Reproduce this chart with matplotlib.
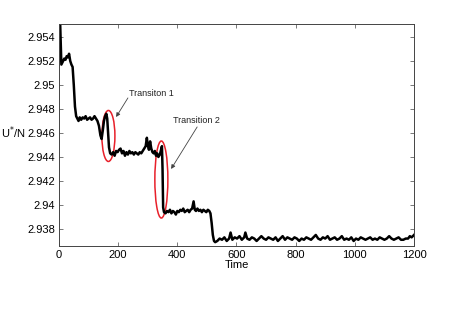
import matplotlib
matplotlib.use("Agg")
import matplotlib.pyplot as plt
from matplotlib.patches import Ellipse

plt.rcParams['font.family'] = ['Liberation Sans', 'DejaVu Sans']

# time series
time = [0, 8, 12, 18, 22, 26, 30, 34, 38, 42, 46, 50, 54, 58, 62,
        66, 70, 75, 80, 85, 90, 95, 100, 105, 110, 115, 120, 125, 130,
        135, 140, 144, 148, 152, 156, 160, 163, 166, 169, 173, 178,
        183, 188, 193, 198, 203, 208, 213, 218, 223, 228, 233, 238, 243, 248,
        253, 258, 263, 268, 273, 278, 283, 288, 293, 297, 300, 304, 308, 312,
        316, 320, 324, 328, 332, 336, 341, 345, 348, 350,
        352, 355, 360, 365, 370, 375, 380, 385, 390, 395, 400, 405, 410, 415,
        420, 425, 430, 435, 440, 445, 450, 455, 459, 463, 468, 473, 478, 483,
        488, 493, 498, 503, 508, 512, 516, 520, 524, 528,
        535, 543, 551, 559, 567, 575, 580, 586, 594, 602, 610, 618, 626, 630,
        636, 644, 652, 660, 668, 676, 684, 692, 700, 708, 716, 724, 732, 740,
        748, 756, 764, 772, 780, 788, 796, 804, 812, 820, 828, 836, 844, 852,
        860, 868, 876, 884, 892, 900, 908, 916, 924, 932, 940, 948, 956, 964,
        972, 980, 988, 996, 1004, 1012, 1020, 1028, 1036, 1044, 1052, 1060,
        1068, 1076, 1084, 1092, 1100, 1108, 1116, 1124, 1132, 1140, 1148, 1156,
        1164, 1172, 1180, 1186, 1192, 1200]
energy = [2.9585, 2.9517, 2.9519, 2.9522, 2.9521, 2.9524, 2.9523, 2.9526, 2.9520, 2.9517, 2.9515, 2.9500, 2.9482, 2.9474, 2.9472,
          2.9470, 2.9473, 2.9471, 2.9473, 2.9472, 2.9474, 2.9471, 2.9472, 2.9473, 2.9471, 2.9472, 2.9474, 2.9472, 2.9470,
          2.9466, 2.9458, 2.9455, 2.9462, 2.9470, 2.9474, 2.9476, 2.9472, 2.9460, 2.9448, 2.9443, 2.9442,
          2.9444, 2.9441, 2.9445, 2.9444, 2.9446, 2.9447, 2.9443, 2.9445, 2.9441, 2.9444, 2.9442, 2.9445, 2.9443, 2.9444,
          2.9442, 2.9444, 2.9443, 2.9442, 2.9444, 2.9443, 2.9445, 2.9447, 2.9449, 2.9456, 2.9450, 2.9446, 2.9453, 2.9447,
          2.9444, 2.9443, 2.9445, 2.9441, 2.9443, 2.9440, 2.9442, 2.9446, 2.9449, 2.9430,
          2.9398, 2.9394, 2.9393, 2.9395, 2.9394, 2.9396, 2.9393, 2.9395, 2.9394, 2.9392, 2.9395, 2.9394, 2.9396, 2.9395,
          2.9397, 2.9394, 2.9395, 2.9396, 2.9394, 2.9396, 2.9397, 2.9403, 2.9396, 2.9395, 2.9397, 2.9395, 2.9396, 2.9394,
          2.9396, 2.9395, 2.9394, 2.9396, 2.9395, 2.9393, 2.9385, 2.9375, 2.9370, 2.9369,
          2.9370, 2.9372, 2.9371, 2.9373, 2.9370, 2.9372, 2.9377, 2.9371, 2.9373, 2.9372, 2.9374, 2.9371, 2.9373, 2.9377,
          2.9372, 2.9371, 2.9373, 2.9372, 2.9370, 2.9372, 2.9374, 2.9372, 2.9371, 2.9373, 2.9372, 2.9371, 2.9373, 2.9370,
          2.9372, 2.9374, 2.9371, 2.9373, 2.9372, 2.9371, 2.9373, 2.9372, 2.9370, 2.9372, 2.9371, 2.9373, 2.9372, 2.9371,
          2.9373, 2.9375, 2.9372, 2.9371, 2.9373, 2.9372, 2.9374, 2.9371, 2.9372, 2.9373, 2.9371, 2.9372, 2.9374, 2.9371,
          2.9372, 2.9371, 2.9373, 2.9370, 2.9372, 2.9371, 2.9373, 2.9372, 2.9371, 2.9372, 2.9373, 2.9371,
          2.9372, 2.9371, 2.9373, 2.9372, 2.9371, 2.9372, 2.9374, 2.9372, 2.9371, 2.9372, 2.9373, 2.9371,
          2.9371, 2.9372, 2.9372, 2.9374, 2.9373, 2.9375]

x_ticks = [0, 200, 400, 600, 800, 1000, 1200]
y_ticks = [2.938, 2.940, 2.942, 2.944, 2.946, 2.948, 2.950, 2.952, 2.954]
y_tick_labels = ['2.938', '2.94', '2.942', '2.944', '2.946', '2.948', '2.95', '2.952', '2.954']

fig = plt.figure(figsize=(4.57, 3.28), dpi=100)
ax = fig.add_axes([0.1291, 0.25, 0.7768, 0.6768])

ax.plot(time, energy, color='black', linewidth=1.8)

# red ellipses marking the transitions
ax.add_patch(Ellipse((167, 2.94575), 44, 0.00425, fill=False, edgecolor='#e8202a', linewidth=1.1))
ax.add_patch(Ellipse((346, 2.94212), 44, 0.00642, fill=False, edgecolor='#e8202a', linewidth=1.1))

arrow = dict(arrowstyle='-|>', color='#444444', linewidth=0.6, mutation_scale=6, shrinkA=0, shrinkB=0)
ax.annotate('', xy=(193, 2.94733), xytext=(233, 2.94892), arrowprops=arrow)
ax.text(237, 2.94933, 'Transiton 1', fontsize=6.5, ha='left', va='center', color='#222222')
ax.annotate('', xy=(379, 2.9430), xytext=(467, 2.9465), arrowprops=arrow)
ax.text(385, 2.9470, 'Transition 2', fontsize=6.5, ha='left', va='center', color='#222222')

ax.set_xlim(0, 1200)
ax.set_ylim(2.93658, 2.95508)
ax.set_xticks(x_ticks)
ax.set_yticks(y_ticks)
ax.set_yticklabels(y_tick_labels)
ax.tick_params(direction='in', length=3, width=0.5, labelsize=8, pad=3,
               top=True, right=True, colors='#444444', labelcolor='black')
for s in ax.spines.values():
    s.set_linewidth(0.7)
    s.set_color('#444444')

ax.set_xlabel('Time', fontsize=8, labelpad=0)
ax.set_ylabel('U$^{*}$/N', fontsize=8, rotation=0, ha='right', va='center')
ax.yaxis.set_label_coords(-0.093, 0.509)

fig.savefig('out.png', dpi=100)
